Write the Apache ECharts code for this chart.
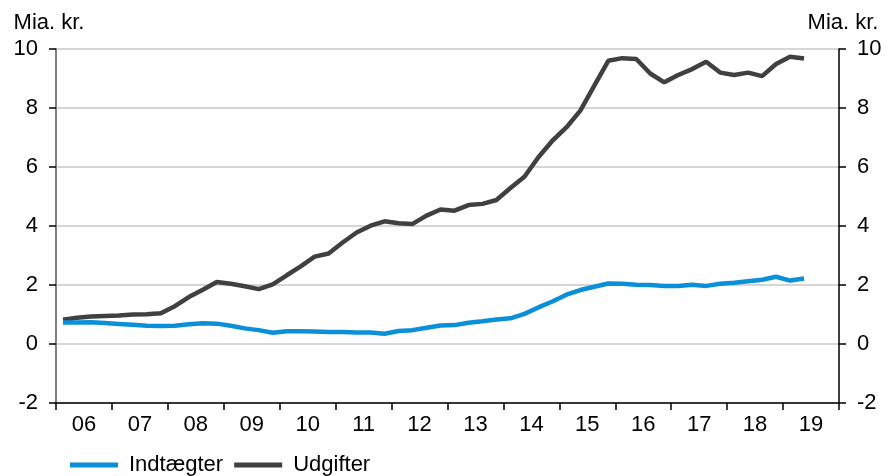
<!DOCTYPE html>
<html>
<head>
<meta charset="utf-8">
<script src="https://cdn.jsdelivr.net/npm/echarts@6/dist/echarts.min.js"></script>
<style>
html,body{margin:0;padding:0;background:#fff;}
#chart{width:890px;height:476px;}
</style>
</head>
<body>
<div id="chart"></div>
<script>
// Year tick labels (one per year, 2006-2019)
const yearLabels = ['06','07','08','09','10','11','12','13','14','15','16','17','18','19'];
// Quarterly values, 2006 K1 - 2019 K2 (Mia. kr.)
const indtaegter = [0.73,0.73,0.74,0.71,0.68,0.65,0.62,0.61,0.62,0.67,0.70,0.69,0.62,0.53,0.47,0.38,
  0.43,0.43,0.42,0.41,0.41,0.39,0.39,0.35,0.44,0.47,0.55,0.63,0.64,0.72,0.77,0.83,0.87,1.02,1.24,1.44,
  1.67,1.83,1.94,2.05,2.04,2.01,2.00,1.97,1.97,2.01,1.97,2.04,2.08,2.13,2.18,2.28,2.15,2.22];
const udgifter = [0.82,0.89,0.93,0.95,0.97,1.00,1.01,1.04,1.28,1.59,1.84,2.10,2.04,1.96,1.86,2.02,
  2.33,2.63,2.96,3.07,3.44,3.78,4.01,4.16,4.09,4.07,4.35,4.56,4.52,4.71,4.75,4.88,5.29,5.67,6.33,6.89,
  7.34,7.91,8.76,9.60,9.69,9.66,9.17,8.87,9.12,9.32,9.57,9.20,9.12,9.20,9.08,9.49,9.74,9.68];
const yTicks = {min: -2, max: 10, interval: 2};

const quarters = [];
yearLabels.forEach(y => { for (let q = 1; q <= 4; q++) quarters.push('20' + y + 'K' + q); });

const FONT = 'Arial, "Liberation Sans", sans-serif';
const chart = echarts.init(document.getElementById('chart'), null, {renderer: 'canvas'});
const yBase = {
  type: 'value', min: yTicks.min, max: yTicks.max, interval: yTicks.interval,
  name: 'Mia. kr.', nameLocation: 'end', nameGap: 15,
  axisTick: {show: true, length: 7, lineStyle: {color: '#000', width: 1.5}},
  axisLabel: {margin: 18, color: '#000', fontSize: 22, fontFamily: FONT}
};
chart.setOption({
  animation: false,
  textStyle: {fontFamily: FONT},
  grid: {left: 56, right: 51, top: 49, bottom: 73, containLabel: false},
  legend: {
    left: 65, top: 449, itemWidth: 48, itemHeight: 5, itemGap: 11, icon: 'rect',
    textStyle: {fontSize: 22, color: '#000', fontFamily: FONT, padding: [0,0,0,6]},
    data: ['Indtægter', 'Udgifter']
  },
  xAxis: [{
    type: 'category', data: quarters, position: 'bottom', boundaryGap: true,
    axisLine: {show: true, onZero: false, lineStyle: {color: '#000', width: 1.5}},
    axisTick: {show: true, interval: 3, length: 7, lineStyle: {color: '#000', width: 1.5}},
    axisLabel: {show: false}, splitLine: {show: false}
  }, {
    type: 'category', data: yearLabels, position: 'bottom', boundaryGap: true,
    axisLine: {show: false, onZero: false}, axisTick: {show: false}, splitLine: {show: false},
    axisLabel: {margin: 11, color: '#000', fontSize: 22, fontFamily: FONT}
  }],
  yAxis: [Object.assign({}, yBase, {
    position: 'left',
    nameTextStyle: {color: '#000', fontSize: 22, fontFamily: FONT, align: 'center', padding: [0, 14, 0, 0]},
    axisLine: {show: true, lineStyle: {color: '#808080', width: 2}},
    splitLine: {show: true, lineStyle: {color: '#c8c8c8', width: 1.5}}
  }), Object.assign({}, yBase, {
    position: 'right',
    nameTextStyle: {color: '#000', fontSize: 22, fontFamily: FONT, align: 'center', padding: [0, 0, 0, 8]},
    axisLine: {show: true, lineStyle: {color: '#000', width: 1.5}},
    splitLine: {show: false}
  })],
  series: [{
    name: 'Indtægter', type: 'line', data: indtaegter, xAxisIndex: 0, yAxisIndex: 0,
    showSymbol: false, color: '#0a90d8', lineStyle: {width: 4.5, color: '#0a90d8'}, z: 3
  }, {
    name: 'Udgifter', type: 'line', data: udgifter, xAxisIndex: 0, yAxisIndex: 0,
    showSymbol: false, color: '#404040', lineStyle: {width: 4.5, color: '#404040'}, z: 2
  }]
});
</script>
</body>
</html>
